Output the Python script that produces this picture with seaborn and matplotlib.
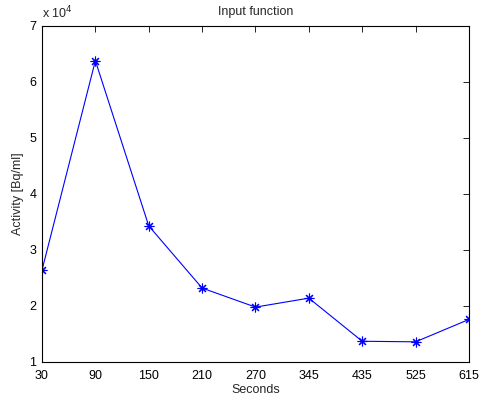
import matplotlib
matplotlib.use("Agg")
import matplotlib.pyplot as plt
import seaborn as sns
import pandas as pd
import numpy as np

seconds = ["30", "90", "150", "210", "270", "345", "435", "525", "615"]
activity = [2.64, 6.38, 3.43, 2.32, 1.98, 2.14, 1.37, 1.36, 1.76]  # x 10^4 Bq/ml
yticks = [1, 2, 3, 4, 5, 6, 7]

sns.set_theme(style="white")
plt.rcParams['font.family'] = ['Liberation Sans', 'DejaVu Sans']

df = pd.DataFrame({"pos": np.arange(len(seconds)), "act": activity})

fig = plt.figure(figsize=(4.81, 3.98), dpi=100)
ax = fig.add_axes([0.0873, 0.0905, 0.975 - 0.0873, 0.9347 - 0.0905])
sns.lineplot(data=df, x="pos", y="act", ax=ax, color=(0, 0, 1), marker=(8, 2, 0),
             markersize=7, linewidth=0.8, markeredgecolor=(0, 0, 1),
             markerfacecolor=(0, 0, 1), markeredgewidth=0.8)
ax.set_xlim(0, len(seconds) - 1)
ax.set_ylim(1, 7)
ax.set_xticks(np.arange(len(seconds)))
ax.set_xticklabels(seconds)
ax.set_yticks(yticks)
ax.set_yticklabels([str(t) for t in yticks])
ax.tick_params(direction="in", length=4, width=0.6, top=True, right=True,
               labelsize=9, colors="black")
ax.tick_params(axis="x", pad=6)
ax.tick_params(axis="y", pad=4)
for s in ax.spines.values():
    s.set_visible(True)
    s.set_color("black")
    s.set_linewidth(0.8)
ax.set_xlabel("Seconds", fontsize=9, labelpad=1)
ax.set_ylabel("Activity [Bq/ml]", fontsize=9, labelpad=4)
ax.set_title("Input function", fontsize=9, pad=8)
ax.text(0.0, 1.015, r"x 10$^4$", transform=ax.transAxes, fontsize=9,
        ha="left", va="bottom")
fig.savefig("out.png", dpi=100)
